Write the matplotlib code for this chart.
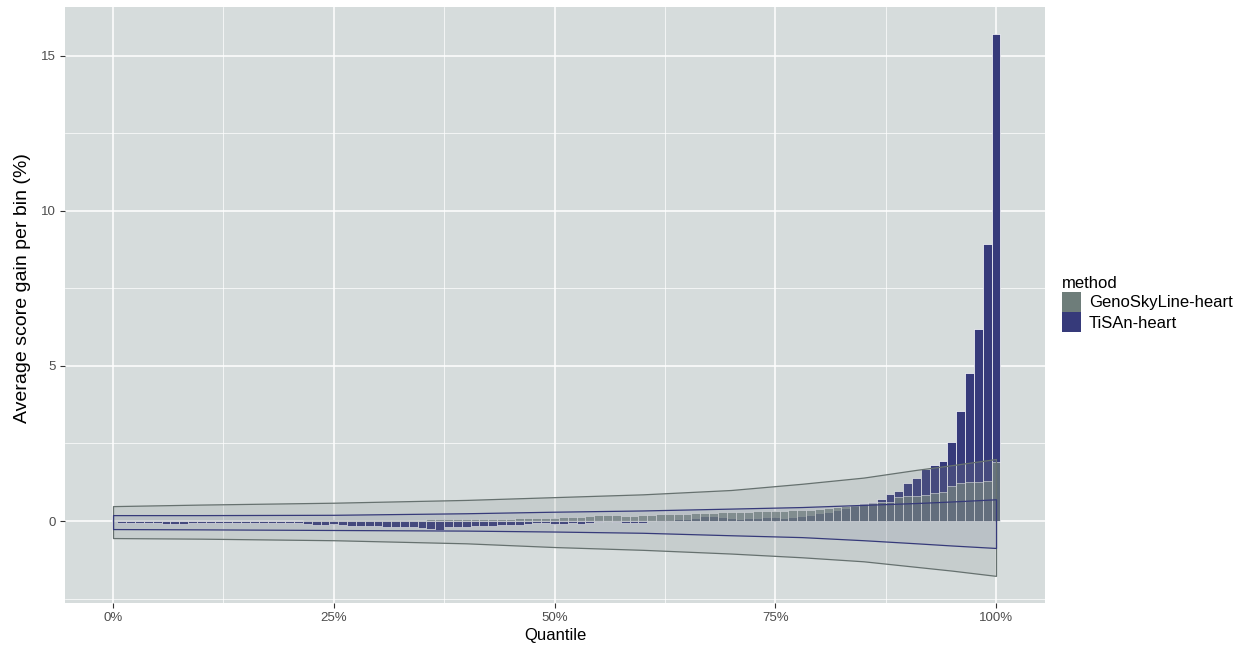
import numpy as np
import matplotlib.pyplot as plt
from matplotlib.patches import Patch

plt.rcParams['font.family'] = ['Liberation Sans', 'DejaVu Sans']

# ============================
# DATA
# ============================

# bin position (quantile, %)
quantile = np.arange(1, 101)

tisan = [
    -0.05, -0.05, -0.05, -0.05, -0.05, -0.10, -0.10, -0.10, -0.05, -0.05,
    -0.05, -0.05, -0.05, -0.05, -0.05, -0.05, -0.05, -0.05, -0.06, -0.06,
    -0.06, -0.10, -0.12, -0.12, -0.10, -0.12, -0.15, -0.15, -0.17, -0.15,
    -0.18, -0.18, -0.20, -0.20, -0.22, -0.25, -0.28, -0.20, -0.18, -0.18,
    -0.15, -0.15, -0.15, -0.12, -0.12, -0.12, -0.10, -0.08, -0.08, -0.10,
    -0.10, -0.08, -0.10, -0.06, -0.03, 0.00, -0.02, -0.05, -0.06, -0.05,
    0.00, 0.02, 0.03, 0.05, 0.05, 0.10, 0.15, 0.15, 0.12, 0.10,
    0.08, 0.10, 0.10, 0.12, 0.12, 0.10, 0.12, 0.15, 0.20, 0.25,
    0.30, 0.35, 0.42, 0.50, 0.58, 0.62, 0.72, 0.87, 0.97, 1.22,
    1.38, 1.68, 1.80, 1.95, 2.55, 3.55, 4.77, 6.19, 8.93, 15.70,
]

genosky = [
    0.00, 0.00, 0.00, 0.00, 0.00, 0.00, 0.00, 0.00, 0.00, 0.00,
    0.00, 0.00, 0.00, 0.00, 0.00, 0.00, 0.00, 0.00, 0.00, 0.00,
    0.01, 0.02, 0.02, 0.02, 0.02, 0.02, 0.02, 0.03, 0.03, 0.03,
    0.03, 0.03, 0.04, 0.04, 0.04, 0.05, 0.05, 0.05, 0.06, 0.06,
    0.06, 0.07, 0.07, 0.08, 0.08, 0.09, 0.09, 0.10, 0.10, 0.11,
    0.12, 0.13, 0.14, 0.15, 0.18, 0.20, 0.18, 0.16, 0.17, 0.18,
    0.20, 0.21, 0.22, 0.23, 0.24, 0.25, 0.26, 0.27, 0.28, 0.29,
    0.30, 0.30, 0.31, 0.32, 0.32, 0.33, 0.34, 0.35, 0.37, 0.40,
    0.42, 0.45, 0.48, 0.52, 0.55, 0.58, 0.62, 0.62, 0.78, 0.80,
    0.82, 0.85, 0.90, 0.95, 1.12, 1.22, 1.26, 1.27, 1.28, 1.90,
]

# null envelopes (upper / lower limits along the quantile axis)
band_q = [0, 10, 25, 40, 50, 60, 70, 78, 85, 91, 95, 100]
geno_hi = [0.48, 0.53, 0.59, 0.68, 0.77, 0.86, 1.00, 1.20, 1.40, 1.65, 1.80, 2.00]
geno_lo = [-0.55, -0.57, -0.62, -0.72, -0.84, -0.93, -1.05, -1.17, -1.30, -1.48, -1.60, -1.77]
tisan_hi = [0.19, 0.19, 0.20, 0.25, 0.30, 0.34, 0.40, 0.45, 0.52, 0.58, 0.63, 0.70]
tisan_lo = [-0.26, -0.27, -0.29, -0.31, -0.34, -0.38, -0.46, -0.52, -0.62, -0.72, -0.79, -0.87]

METHODS = ["GenoSkyLine-heart", "TiSAn-heart"]
COL_GENO = "#6e7d7a"
COL_TISAN = "#363a7a"
PANEL_BG = "#d6dcdc"

# ============================
# PLOT
# ============================

fig = plt.figure(figsize=(12.47, 6.47), dpi=100)
ax = fig.add_axes([65 / 1247, 1 - 603 / 647, 980 / 1247, 596 / 647])
ax.set_facecolor(PANEL_BG)

ax.bar(quantile, tisan, width=1.0, color=COL_TISAN,
       edgecolor="white", linewidth=0.5, zorder=2)
ax.bar(quantile, genosky, width=1.0, color=COL_GENO, alpha=0.75,
       edgecolor="white", linewidth=0.5, zorder=2.1)

ax.fill_between(band_q, geno_lo, geno_hi, facecolor=(0.54, 0.58, 0.57, 0.2),
                edgecolor="#66716f", linewidth=0.9, zorder=3)
ax.fill_between(band_q, tisan_lo, tisan_hi, facecolor=(0.21, 0.23, 0.48, 0.08),
                edgecolor=COL_TISAN, linewidth=0.9, zorder=3.1)

ax.set_xlim(-5.44, 105.55)
ax.set_ylim(-2.645, 16.58)

ax.set_xticks([0, 25, 50, 75, 100])
ax.set_xticklabels(["0%", "25%", "50%", "75%", "100%"])
ax.set_xticks([12.5, 37.5, 62.5, 87.5], minor=True)
ax.set_yticks([0, 5, 10, 15])
ax.set_yticks([-2.5, 2.5, 7.5, 12.5], minor=True)

ax.set_axisbelow(True)
ax.grid(which="major", color="white", linewidth=1.1)
ax.grid(which="minor", color="white", linewidth=0.5)
for s in ax.spines.values():
    s.set_visible(False)

ax.tick_params(which="major", length=3.5, width=0.8, color="#333333",
               labelcolor="#4d4d4d", labelsize=9.5, pad=3)
ax.tick_params(which="minor", length=0)

ax.set_xlabel("Quantile", fontsize=12, color="black", labelpad=3)
ax.set_ylabel("Average score gain per bin (%)", fontsize=14, color="black")
ax.yaxis.set_label_coords(-0.035, 0.528)

handles = [Patch(facecolor=COL_GENO, edgecolor="none"),
           Patch(facecolor=COL_TISAN, edgecolor="none")]
leg = fig.legend(handles, METHODS, title="method", loc="upper left",
                 bbox_to_anchor=(1062 / 1247, 1 - 276 / 647), frameon=False,
                 fontsize=12, title_fontsize=12, handlelength=1.15,
                 handleheight=1.45, handletextpad=0.45, labelspacing=0.05,
                 borderaxespad=0, borderpad=0)
leg._legend_box.align = "left"

fig.savefig("out.png", dpi=100)
